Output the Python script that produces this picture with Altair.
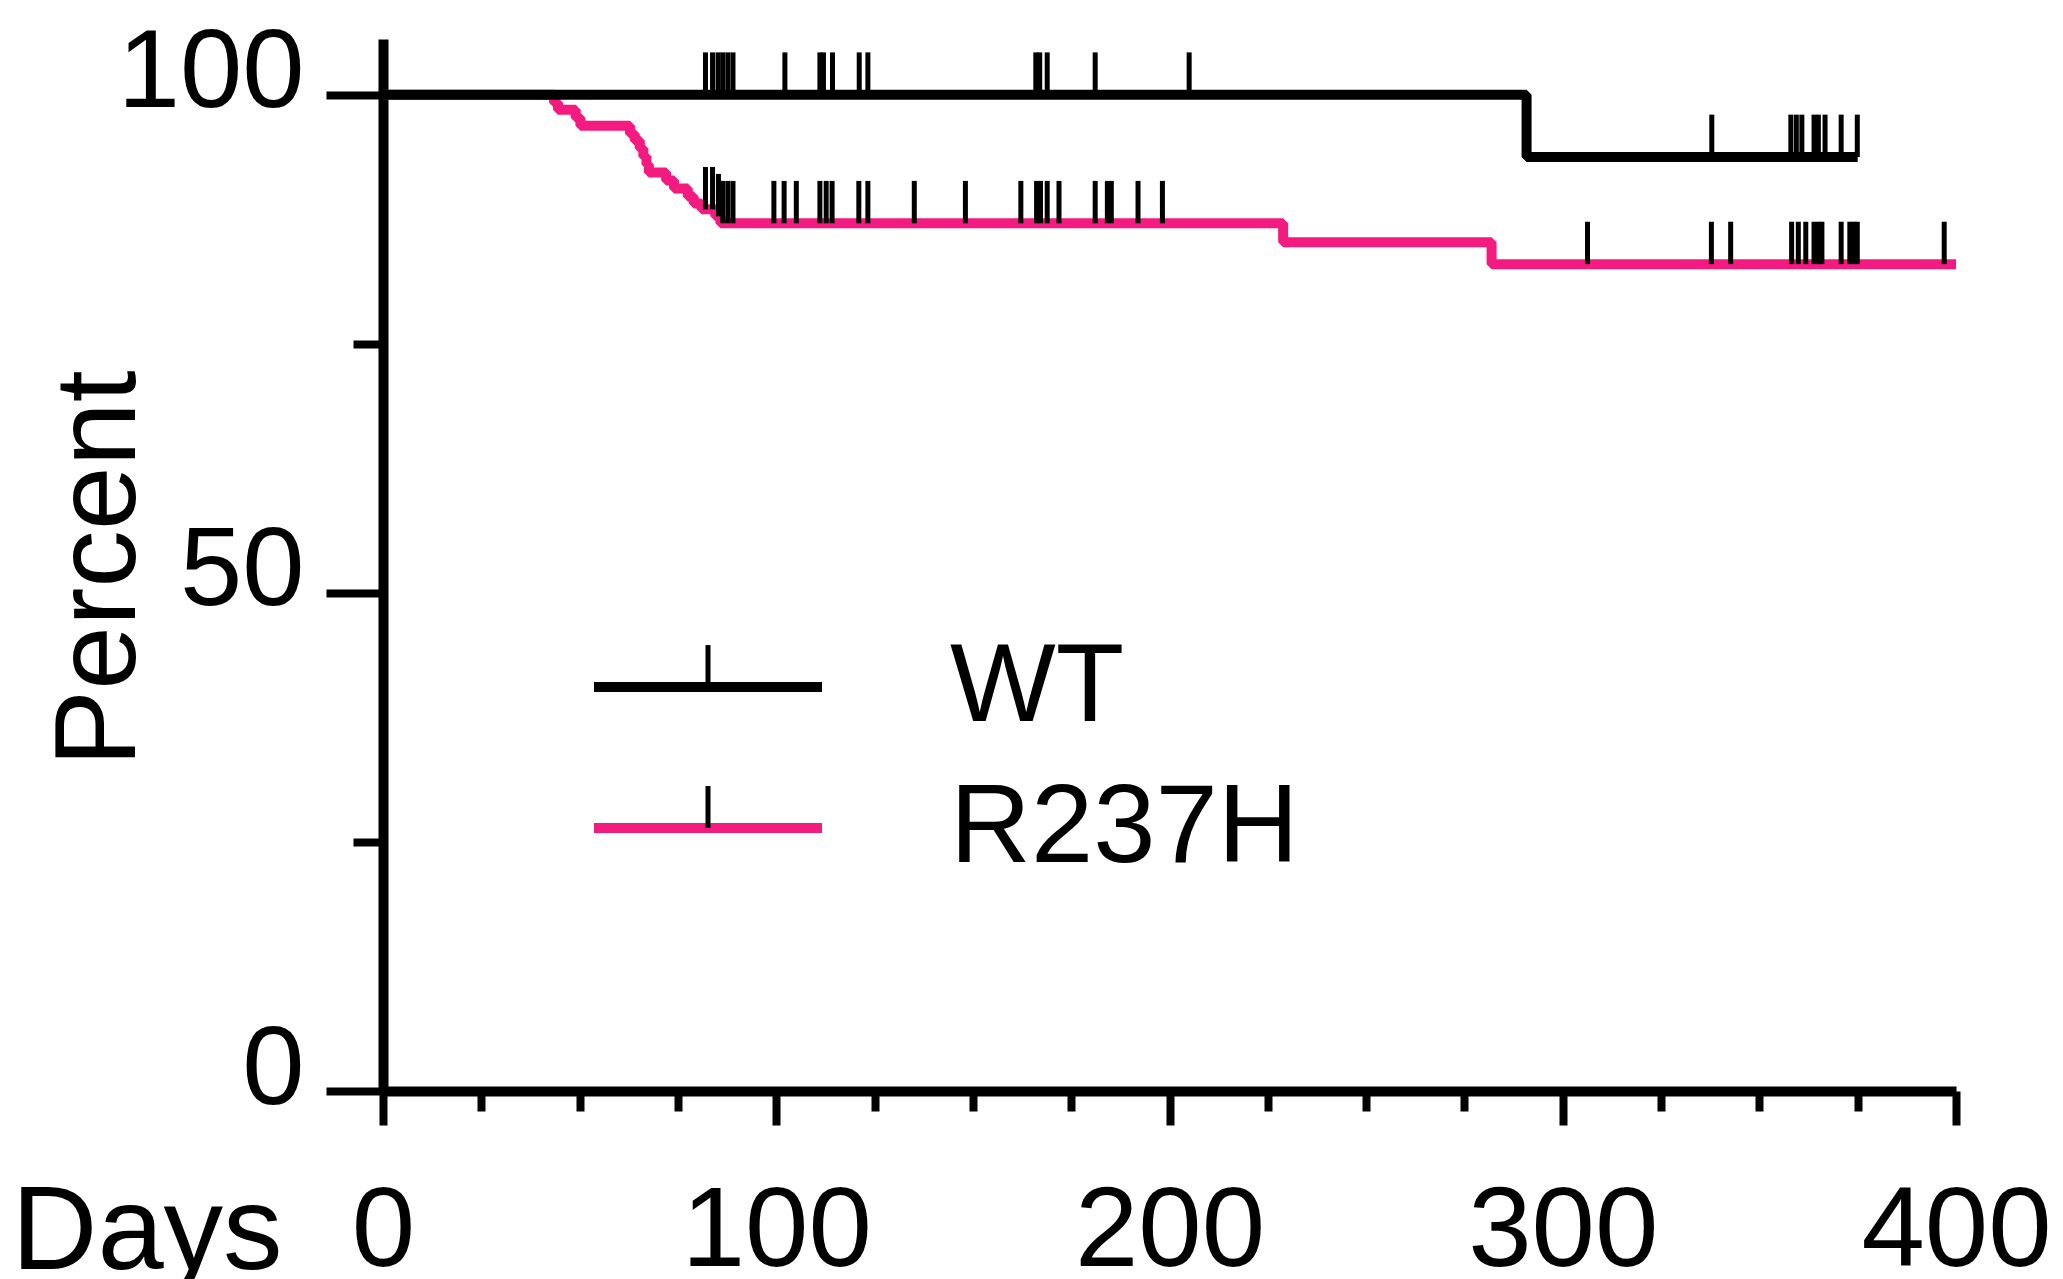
import altair as alt
import pandas as pd

FONT = "Liberation Sans"
PINK = "#F31A80"

groups = ["WT", "R237H"]
colors = ["black", PINK]
cens_groups = ["WT censored", "R237H censored"]

# Kaplan-Meier step points (day, percent surviving)
wt_days = [0, 290.8, 375]
wt_pct = [100, 93.75, 93.75]

r_days = [0, 43.5, 44.5, 49.0, 50.2, 62.8, 64.0, 65.3, 66.2, 67.0, 67.6,
          72.0, 74.0, 77.5, 79.0, 81.0, 84.5, 85.8, 228.9, 281.9, 400]
r_pct = [100, 99.2, 98.5, 97.7, 96.9, 96.1, 95.4, 94.6, 93.8, 93.0, 92.2,
         91.4, 90.6, 89.8, 89.1, 88.5, 87.8, 87.1, 85.2, 83.0, 83.0]

# Censored observations (tick marks)
wt_cens_days = [82.0, 83.8, 85.2, 86.4, 87.7, 89.0, 102.2, 111.1, 112.0, 114.3,
                121.1, 123.3, 166.0, 167.0, 168.9, 181.1, 205.0,
                337.9, 358.0, 359.4, 360.8, 363.9, 365.0, 366.7, 370.8, 374.9]
wt_cens_pct = [100] * 17 + [93.75] * 9

r_cens_days = [82.0, 83.8, 85.3, 86.4, 87.7, 89.0, 99.4, 102.0, 105.1, 111.1,
               112.7, 114.2, 121.0, 123.3, 135.1, 148.1, 162.2, 166.2, 167.2,
               168.9, 171.9, 181.1, 184.2, 185.2, 192.0, 198.2,
               306.3, 337.8, 342.7, 358.2, 359.9, 361.8, 363.9, 365.0, 365.9,
               370.8, 373.0, 374.0, 374.9, 397.0]
r_cens_pct = [88.5, 88.5, 87.8] + [87.1] * 23 + [83.0] * 14

x_ticks = list(range(0, 401, 25))
y_ticks = [0, 25, 50, 75, 100]

line_df = pd.DataFrame({
    "day": wt_days + r_days,
    "pct": wt_pct + r_pct,
    "group": ["WT"] * len(wt_days) + ["R237H"] * len(r_days),
})
cens_df = pd.DataFrame({
    "day": wt_cens_days + r_cens_days,
    "pct": wt_cens_pct + r_cens_pct,
    "group2": [cens_groups[0]] * len(wt_cens_days) + [cens_groups[1]] * len(r_cens_days),
})

x_enc = alt.X(
    "day:Q",
    scale=alt.Scale(domain=[0, 400], nice=False),
    axis=alt.Axis(
        values=x_ticks,
        title="Days", titleX=-372, titleY=177, titleAlign="left",
        titleBaseline="alphabetic", titleAngle=0, titleFontSize=119,
        titleFont=FONT, titleFontWeight="normal", titleColor="black",
        labelExpr="datum.value % 100 === 0 ? datum.label : ''",
        labelFontSize=114, labelFont=FONT, labelColor="black", labelLimit=1000,
        labelBaseline="top", labelPadding=50, labelFlush=False, labelOverlap=False,
        tickSize={"condition": {"test": "datum.value % 100 === 0", "value": 34}, "value": 20},
        tickWidth=8, tickColor="black", domainWidth=10, domainColor="black",
        grid=False,
    ),
)
y_enc = alt.Y(
    "pct:Q",
    scale=alt.Scale(domain=[0, 105.6], nice=False),
    axis=alt.Axis(
        values=y_ticks,
        title="Percent", titleX=-249, titleY=529, titleAngle=270,
        titleAlign="center", titleBaseline="alphabetic", titleFontSize=115,
        titleFont=FONT, titleFontWeight="normal", titleColor="black",
        labelExpr="datum.value % 50 === 0 ? datum.label : ''",
        labelFontSize=112, labelFont=FONT, labelColor="black", labelLimit=1000,
        labelPadding=22, labelOffset=12, labelBaseline="alphabetic",
        labelFlush=False, labelOverlap=False,
        tickSize={"condition": {"test": "datum.value % 50 === 0", "value": 57}, "value": 30},
        tickWidth=8, tickColor="black", domainWidth=10, domainColor="black",
        grid=False,
    ),
)

color_legend = alt.Legend(
    title=None, orient="none", legendX=206, legendY=593, padding=0,
    symbolType="M-1,0L1,0", symbolSize=51984, symbolStrokeWidth=10,
    clipHeight=110, rowPadding=29, labelOffset=123,
    labelFontSize=112, labelFont=FONT, labelColor="black", labelLimit=1000,
)
tick_legend = alt.Legend(
    title=None, orient="none", legendX=206, legendY=593, padding=0,
    symbolType="M0,0L0,-0.36", symbolSize=54289, symbolStrokeWidth=5,
    clipHeight=110, rowPadding=29, labelOffset=123,
    labelFontSize=112, labelFont=FONT, labelExpr="''", labelLimit=1000,
)

color_enc = alt.Color("group:N", scale=alt.Scale(domain=groups, range=colors), legend=color_legend)

base = alt.Chart(line_df)
pink_line = base.transform_filter(alt.datum.group == "R237H").mark_line(
    interpolate="step-after", strokeWidth=10, strokeJoin="bevel", strokeCap="butt"
).encode(x=x_enc, y=y_enc, color=color_enc)
wt_line = base.transform_filter(alt.datum.group == "WT").mark_line(
    interpolate="step-after", strokeWidth=10, strokeJoin="bevel", strokeCap="butt"
).encode(x=x_enc, y=y_enc, color=color_enc)

ticks = alt.Chart(cens_df).mark_point(
    shape="M0,0L0,-1", size=7191, filled=False, strokeWidth=5, opacity=1, strokeCap="butt"
).encode(
    x=x_enc, y=y_enc,
    stroke=alt.Stroke("group2:N", scale=alt.Scale(domain=cens_groups, range=["black", "black"]),
                      legend=tick_legend),
)

chart = alt.layer(pink_line, wt_line, ticks).properties(
    width=1573, height=1052,
    autosize=alt.AutoSizeParams(type="none"),
    padding={"left": 383, "top": 39, "right": 107, "bottom": 188},
    background="white",
).configure_view(strokeWidth=0)

chart.save("out.html", embed_options={"renderer": "svg", "actions": False})
